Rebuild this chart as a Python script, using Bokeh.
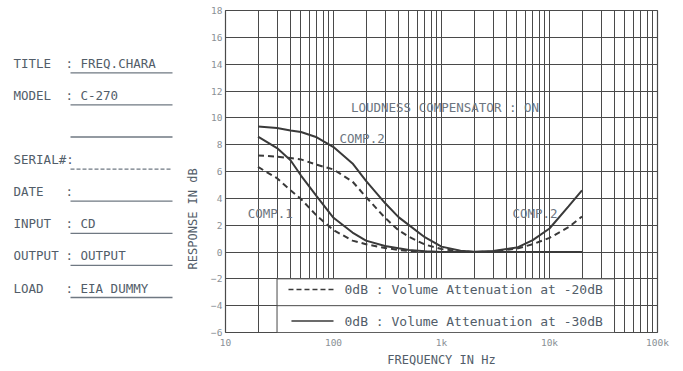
import math
from bokeh.plotting import figure
from bokeh.layouts import row
from bokeh.models import Range1d, FixedTicker
from bokeh.core.properties import value
from bokeh.embed import file_html
from bokeh.resources import INLINE

# ---------------- data ----------------
freq = [20, 30, 40, 50, 70, 100, 150, 200, 300, 400, 500, 700, 1000,
        1500, 2000, 3000, 5000, 7000, 10000, 15000, 20000]
comp2_att30 = [9.36, 9.25, 9.06, 8.94, 8.55, 7.82, 6.6, 5.3, 3.65, 2.6, 2.0, 1.1, 0.4,
               0.1, 0.02, 0.08, 0.33, 0.88, 1.75, 3.4, 4.6]
comp2_att20 = [7.2, 7.1, 7.0, 6.9, 6.5, 6.15, 5.25, 4.1, 2.55, 1.62, 1.13, 0.56, 0.22,
               0.06, 0.0, 0.03, 0.25, 0.58, 1.05, 1.85, 2.65]
comp1_att30 = [8.6, 7.75, 6.84, 5.7, 4.15, 2.55, 1.45, 0.85, 0.45, 0.28, 0.15, 0.05, 0.0,
               0.0, 0.0, 0.0, 0.0, 0.0, 0.0, 0.0, 0.0]
comp1_att20 = [6.34, 5.5, 4.6, 3.95, 2.7, 1.63, 0.85, 0.58, 0.3, 0.15, 0.08, 0.03, 0.0,
               0.0, 0.0, 0.0, 0.0, 0.0, 0.0, 0.0, 0.0]

x_ticks = [10, 100, 1000, 10000, 100000]
x_tick_labels = ["10", "100", "1k", "10k", "100k"]
y_ticks = list(range(-6, 19, 2))

curve_labels = ["COMP.2", "COMP.1", "COMP.2"]
legend_labels = ["0dB : Volume Attenuation at -20dB",
                 "0dB : Volume Attenuation at -30dB"]
title_text = "LOUDNESS COMPENSATOR : ON"
x_axis_title = "FREQUENCY IN Hz"
y_axis_title = "RESPONSE IN dB"

field_names = ["TITLE", "MODEL", "", "SERIAL#:", "DATE", "INPUT", "OUTPUT", "LOAD"]
field_values = ["FREQ.CHARA", "C-270", "", "", "", "CD", "OUTPUT", "EIA DUMMY"]
field_colon = [True, True, False, False, True, True, True, True]

# ---------------- styles ----------------
FONT = value("DejaVu Sans Mono")
INK = "#3a3a3a"
GRID = "#4a4a4a"
TXT = "#525d69"
LIGHT_TXT = "#6c7580"

W_LEFT, H, W_TOTAL = 198, 369, 681
TOP = 10
FRAME_BOTTOM = 333
BOTTOM = H - FRAME_BOTTOM
FRAME_W = 432

# ---------------- left info panel (frame aligned with chart frame) ----------------
left = figure(width=W_LEFT, height=H, output_backend="svg", toolbar_location=None,
              x_range=Range1d(0, W_LEFT), y_range=Range1d(FRAME_BOTTOM, TOP),
              min_border_left=0, min_border_right=0,
              min_border_top=TOP, min_border_bottom=BOTTOM)
left.axis.visible = False
left.grid.visible = False
left.outline_line_color = None

for i, (name, val, colon) in enumerate(zip(field_names, field_values, field_colon)):
    yy = 63 + 32.2 * i
    if name:
        left.text(x=[13], y=[yy], text=[name], text_font=FONT, text_font_size="12.5px",
                  text_color=TXT, text_baseline="middle", text_align="left")
    if colon:
        left.text(x=[65], y=[yy], text=[":"], text_font=FONT, text_font_size="12.5px",
                  text_color=TXT, text_baseline="middle", text_align="left")
    if val:
        left.text(x=[80], y=[yy], text=[val], text_font=FONT, text_font_size="12.5px",
                  text_color=TXT, text_baseline="middle", text_align="left")
    left.line(x=[70, 172], y=[yy + 9.5, yy + 9.5], line_color="#6f7882", line_width=1.3,
              line_dash="4 2" if name == "SERIAL#:" else "solid")

left.text(x=[192], y=[219], text=[y_axis_title], angle=math.pi / 2,
          text_font=FONT, text_font_size="12px", text_color=TXT,
          text_baseline="middle", text_align="center")

# ---------------- chart ----------------
p = figure(width=W_TOTAL - W_LEFT, height=H, output_backend="svg", toolbar_location=None,
           x_axis_type="log", x_range=Range1d(10, 100000), y_range=Range1d(-6, 18),
           min_border_left=27, min_border_right=W_TOTAL - W_LEFT - 27 - FRAME_W,
           min_border_top=TOP, min_border_bottom=BOTTOM)

p.xaxis.ticker = FixedTicker(ticks=x_ticks)
p.xaxis.major_label_overrides = {t: l for t, l in zip(x_ticks, x_tick_labels)}
p.yaxis.ticker = FixedTicker(ticks=y_ticks)
for ax in (p.xaxis, p.yaxis):
    ax.axis_line_color = None
    ax.major_tick_line_color = None
    ax.minor_tick_line_color = None
    ax.major_tick_out = 0
    ax.major_tick_in = 0
    ax.minor_tick_out = 0
    ax.minor_tick_in = 0
    ax.major_label_text_font = "DejaVu Sans Mono"
    ax.major_label_text_color = "#8a9096"
    ax.major_label_text_font_size = "9.5px"
p.xaxis.major_label_standoff = 4
p.yaxis.major_label_standoff = 3
p.xaxis.axis_label = x_axis_title
p.xaxis.axis_label_text_font = "DejaVu Sans Mono"
p.xaxis.axis_label_text_font_style = "normal"
p.xaxis.axis_label_text_font_size = "12px"
p.xaxis.axis_label_text_color = TXT
p.xaxis.axis_label_standoff = 2

grid_ticks = [d * 10 ** e for e in range(1, 5) for d in range(1, 10)] + [100000]
p.xgrid.ticker = FixedTicker(ticks=grid_ticks)
p.ygrid.ticker = FixedTicker(ticks=y_ticks)
p.grid.grid_line_color = GRID
p.grid.grid_line_width = 1
p.grid.grid_line_alpha = 1
p.outline_line_color = GRID
p.outline_line_width = 1.2

# legend box (white panel covering grid)
p.quad(left=[30], right=[40000], bottom=[-6], top=[-2], fill_color="white",
       line_color=GRID, line_width=1)
p.line(x=[30, 40000], y=[-4, -4], line_color=GRID, line_width=1)

# curves
p.line(freq, comp2_att30, line_color=INK, line_width=2)
p.line(freq, comp1_att30, line_color=INK, line_width=2)
p.line(freq, comp2_att20, line_color=INK, line_width=2, line_dash="6 4")
p.line(freq, comp1_att20, line_color=INK, line_width=2, line_dash="6 4")

# annotations
p.text(x=[1077], y=[10.8], text=[title_text], text_font=FONT, text_font_size="12.5px",
       text_color=LIGHT_TXT, text_baseline="middle", text_align="center")
p.text(x=[184, 26, 7350], y=[8.47, 2.9, 2.9], text=curve_labels, text_font=FONT,
       text_font_size="12.5px", text_color=LIGHT_TXT, text_baseline="middle",
       text_align="center")

# legend rows
p.line(x=[38.3, 100], y=[-2.8, -2.8], line_color=INK, line_width=1.5, line_dash="5 3")
p.line(x=[40.8, 100], y=[-5.15, -5.15], line_color=INK, line_width=1.5)
p.text(x=[126.5, 126.5], y=[-2.8, -5.15], text=legend_labels, text_font=FONT,
       text_font_size="13px", text_color=TXT, text_baseline="middle", text_align="left")

layout = row(left, p)
open("out.html", "w").write(file_html(layout, INLINE))
